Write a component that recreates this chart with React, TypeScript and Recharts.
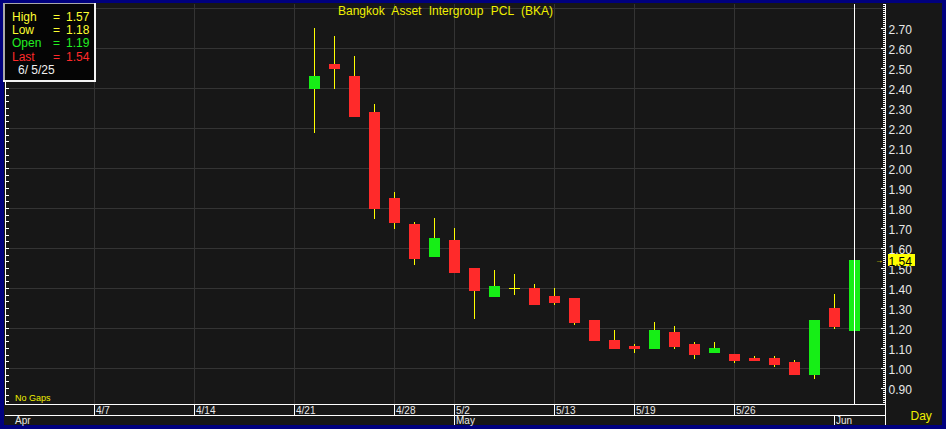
import React from 'react';
import { ComposedChart, Bar, XAxis, YAxis, CartesianGrid, ReferenceLine } from 'recharts';

// ---------- data ----------
const tradingDays = ['4/1','4/2','4/3','4/4','4/7','4/8','4/9','4/10','4/11','4/14','4/15','4/16','4/17','4/18','4/21','4/22','4/23','4/24','4/25','4/28','4/29','4/30','5/2','5/6','5/7','5/8','5/9','5/13','5/14','5/15','5/16','5/19','5/20','5/21','5/22','5/23','5/26','5/27','5/28','5/29','5/30','6/2','6/5'];

const candleDates = ['4/22','4/23','4/24','4/25','4/28','4/29','4/30','5/2','5/6','5/7','5/8','5/9','5/13','5/14','5/15','5/16','5/19','5/20','5/21','5/22','5/23','5/26','5/27','5/28','5/29','5/30','6/2','6/5'];
const opens  = [2.40,2.52,2.46,2.28,1.85,1.72,1.56,1.64,1.50,1.36,1.40,1.40,1.36,1.35,1.24,1.14,1.11,1.10,1.18,1.12,1.08,1.07,1.05,1.05,1.03,0.97,1.30,1.19];
const highs  = [2.70,2.66,2.56,2.32,1.88,1.73,1.75,1.70,1.50,1.49,1.47,1.42,1.40,1.35,1.24,1.19,1.12,1.23,1.21,1.13,1.13,1.07,1.06,1.06,1.04,1.24,1.37,1.57];
const lows   = [2.18,2.40,2.26,1.75,1.70,1.52,1.56,1.48,1.25,1.36,1.37,1.32,1.32,1.22,1.14,1.10,1.08,1.10,1.10,1.05,1.08,1.03,1.04,1.01,0.97,0.95,1.20,1.18];
const closes = [2.46,2.50,2.26,1.80,1.73,1.55,1.65,1.48,1.39,1.41,1.40,1.32,1.33,1.23,1.14,1.10,1.10,1.19,1.11,1.07,1.10,1.04,1.04,1.02,0.97,1.24,1.21,1.54];

const dateTickLabels = ['4/7','4/14','4/21','4/28','5/2','5/13','5/19','5/26'];
const monthLabels = ['Apr','May','Jun'];
const monthStartDays = ['4/1','5/2','6/2'];
const priceLabels = [0.9,1.0,1.1,1.2,1.3,1.4,1.5,1.6,1.7,1.8,1.9,2.0,2.1,2.2,2.3,2.4,2.5,2.6,2.7];
const gridValues = [1.0,1.2,1.4,1.6,1.8,2.0,2.2,2.4,2.6,2.8];

const title = 'Bangkok Asset Intergroup PCL (BKA)';
const lastDateLabel = '6/ 5/25';

// ---------- derived ----------
const slotOf = (d: string) => tradingDays.indexOf(d);
const rows = candleDates.map((d, i) => ({
  date: d,
  slot: slotOf(d),
  open: opens[i],
  high: highs[i],
  low: lows[i],
  close: closes[i],
  range: [lows[i], highs[i]],
}));
const last = rows[rows.length - 1];
const dateTickSlots = dateTickLabels.map(slotOf);
const monthSlots = monthStartDays.map(slotOf);
const xTicks = Array.from(new Set([...dateTickSlots, ...monthSlots])).sort((a, b) => a - b);
const dateMap = new Map(dateTickLabels.map((l) => [slotOf(l), l]));
const monthMap = new Map(monthStartDays.map((d, i) => [slotOf(d), monthLabels[i]]));

const Y_DOMAIN: [number, number] = [0.8225, 2.8225];
const X_DOMAIN: [number, number] = [-0.45, 43.55];

const rightTicks: number[] = [];
for (let c = Math.ceil(Y_DOMAIN[0] * 100); c <= Math.floor(Y_DOMAIN[1] * 100); c++) rightTicks.push(c / 100);
const leftTicks: number[] = [];
for (let k = Math.ceil(Y_DOMAIN[0] * 30); k <= Math.floor(Y_DOMAIN[1] * 30); k++) leftTicks.push(k / 30);

// ---------- style ----------
const NAVY = '#00007e';
const BG = '#171717';
const GRID = '#343434';
const RED = '#ff2a2a';
const GREEN = '#16ee16';
const WICK = '#ffff00';
const YELLOW = '#f0f000';
const FONT = '"Liberation Sans", Arial, sans-serif';

const Candle = (props: any) => {
  let { x, y, width, height, payload } = props;
  if (x == null || y == null || height == null || !payload) return null;
  if (height < 0) { y = y + height; height = -height; }
  const { open, close, high, low } = payload;
  const span = high - low;
  const py = (v: number) => (span === 0 ? y : y + ((high - v) / span) * height);
  const cx = Math.floor(x + width / 2);
  const yH = Math.floor(py(high));
  const yL = Math.floor(py(low));
  const top = Math.floor(py(Math.max(open, close)));
  const bot = Math.floor(py(Math.min(open, close)));
  const flat = open === close;
  const color = flat ? WICK : close > open ? GREEN : RED;
  return (
    <g>
      <rect x={cx} y={yH} width={1} height={yL - yH + 1} fill={WICK} />
      <rect x={cx - 5} y={top} width={11} height={bot - top + 1} fill={color} />
    </g>
  );
};

const RightTick = (props: any) => {
  const { x, y, payload } = props;
  const v = payload.value;
  const cents = Math.round(v * 100);
  const isLabel = priceLabels.some((p) => Math.round(p * 100) === cents);
  const ax = Math.floor(x);
  const ty = Math.floor(y);
  const isLast = cents === Math.round(last.close * 100);
  return (
    <g>
      <rect x={ax - (isLabel ? 4 : 2)} y={ty} width={isLabel ? 4 : 2} height={1} fill="#ffffff" />
      {isLabel && (
        <text x={ax + 3.5} y={ty + 5.5} fill="#e8e8e8" fontSize={12} fontFamily={FONT}>
          {v.toFixed(2)}
        </text>
      )}
      {isLast && (
        <g>
          <text x={ax - 10} y={ty + 3} fill={WICK} fontSize={8} fontFamily={FONT}>→</text>
          <rect x={ax + 3} y={ty - 6} width={27} height={12} fill={WICK} />
          <text x={ax + 3.5} y={ty + 5.5} fill="#000000" fontSize={12} fontFamily={FONT}>
            {v.toFixed(2)}
          </text>
        </g>
      )}
    </g>
  );
};

const LeftTick = (props: any) => {
  const { x, y } = props;
  return <rect x={Math.floor(x) + 1} y={Math.floor(y)} width={3} height={1} fill="#ffffff" />;
};

const XTick = (props: any) => {
  const { x, y, payload } = props;
  const slot = payload.value;
  const px = Math.floor(x);
  const ty = Math.round(y);
  const dl = dateMap.get(slot);
  const ml = monthMap.get(slot);
  return (
    <g>
      {dl && (
        <g>
          <rect x={px} y={ty} width={1} height={11} fill="#ffffff" />
          <text x={px + 2} y={ty + 10} fill="#e8e8e8" fontSize={10} fontFamily={FONT}>{dl}</text>
        </g>
      )}
      {ml && (
        <g>
          {slot > 0 && <rect x={px} y={ty + 11} width={1} height={10} fill="#ffffff" />}
          <text x={slot > 0 ? px + 2 : px + 1} y={ty + 20} fill="#e8e8e8" fontSize={10} fontFamily={FONT}>{ml}</text>
        </g>
      )}
    </g>
  );
};

export default function App() {
  return (
    <div style={{ position: 'absolute', left: 0, top: 0, width: 946, height: 429, background: NAVY, overflow: 'hidden' }}>
      <div style={{ position: 'absolute', left: 4, top: 3, width: 938, height: 422, background: BG }} />
      <div style={{ position: 'absolute', left: 0, top: 0 }}>
        <ComposedChart width={946} height={429} data={rows} margin={{ top: 4, right: 0, bottom: 4, left: 0 }}>
          <CartesianGrid
            yAxisId="p"
            stroke={GRID}
            horizontalValues={gridValues}
            verticalValues={dateTickSlots}
          />
          <XAxis
            type="number"
            dataKey="slot"
            domain={X_DOMAIN}
            allowDataOverflow
            ticks={xTicks}
            interval={0}
            tick={<XTick />}
            tickLine={false}
            axisLine={false}
            height={21}
            tickSize={0}
            tickMargin={0}
          />
          <YAxis
            yAxisId="l"
            orientation="left"
            width={5.5}
            type="number"
            domain={Y_DOMAIN}
            allowDataOverflow
            ticks={leftTicks}
            interval={0}
            tick={<LeftTick />}
            tickLine={false}
            axisLine={{ stroke: '#ffffff' }}
            tickSize={0}
            tickMargin={0}
          />
          <YAxis
            yAxisId="p"
            orientation="right"
            width={60.5}
            type="number"
            domain={Y_DOMAIN}
            allowDataOverflow
            ticks={rightTicks}
            interval={0}
            tick={<RightTick />}
            tickLine={false}
            axisLine={{ stroke: '#ffffff' }}
            tickSize={0}
            tickMargin={0}
          />
          <Bar yAxisId="p" dataKey="range" barSize={11} shape={<Candle />} isAnimationActive={false} />
          <ReferenceLine yAxisId="p" x={last.slot} stroke="#ffffff" strokeWidth={1} />
        </ComposedChart>
      </div>
      <svg width={946} height={429} style={{ position: 'absolute', left: 0, top: 0, pointerEvents: 'none' }}>
        {/* bottom frame lines */}
        <rect x={5} y={404} width={881} height={1} fill="#ffffff" />
        <rect x={5} y={415} width={881} height={1} fill="#ffffff" />
        <rect x={885} y={404} width={1} height={21} fill="#ffffff" />
        {/* title */}
        <text x={445.5} y={14.5} textAnchor="middle" fill={YELLOW} fontSize={12} fontFamily={FONT} style={{ wordSpacing: 4 }}>
          {title}
        </text>
        {/* legend box */}
        <rect x={3} y={3} width={93} height={79} fill="#f4f4f4" />
        <rect x={3} y={3} width={91} height={77} fill="#a8a8a8" />
        <rect x={5} y={4} width={89} height={76} fill="#050505" />
        <g fontSize={12} fontFamily={FONT}>
          <text x={12} y={20.7} fill="#ffff30">High</text>
          <text x={53} y={20.7} fill="#ffff30">=</text>
          <text x={66} y={20.7} fill="#ffff30">{last.high.toFixed(2)}</text>
          <text x={12} y={34} fill="#ffff30">Low</text>
          <text x={53} y={34} fill="#ffff30">=</text>
          <text x={66} y={34} fill="#ffff30">{last.low.toFixed(2)}</text>
          <text x={12} y={47.3} fill="#22ee22">Open</text>
          <text x={53} y={47.3} fill="#22ee22">=</text>
          <text x={66} y={47.3} fill="#22ee22">{last.open.toFixed(2)}</text>
          <text x={12} y={60.5} fill="#ff2a2a">Last</text>
          <text x={53} y={60.5} fill="#ff2a2a">=</text>
          <text x={66} y={60.5} fill="#ff2a2a">{last.close.toFixed(2)}</text>
          <text x={18} y={73.5} fill="#f0f0f0" style={{ whiteSpace: 'pre' }}>{lastDateLabel}</text>
        </g>
        {/* footer labels */}
        <text x={15} y={400.5} fill={YELLOW} fontSize={9} fontFamily={FONT}>No Gaps</text>
        <text x={910.5} y={419.5} fill={YELLOW} fontSize={12} fontFamily={FONT}>Day</text>
      </svg>
    </div>
  );
}
